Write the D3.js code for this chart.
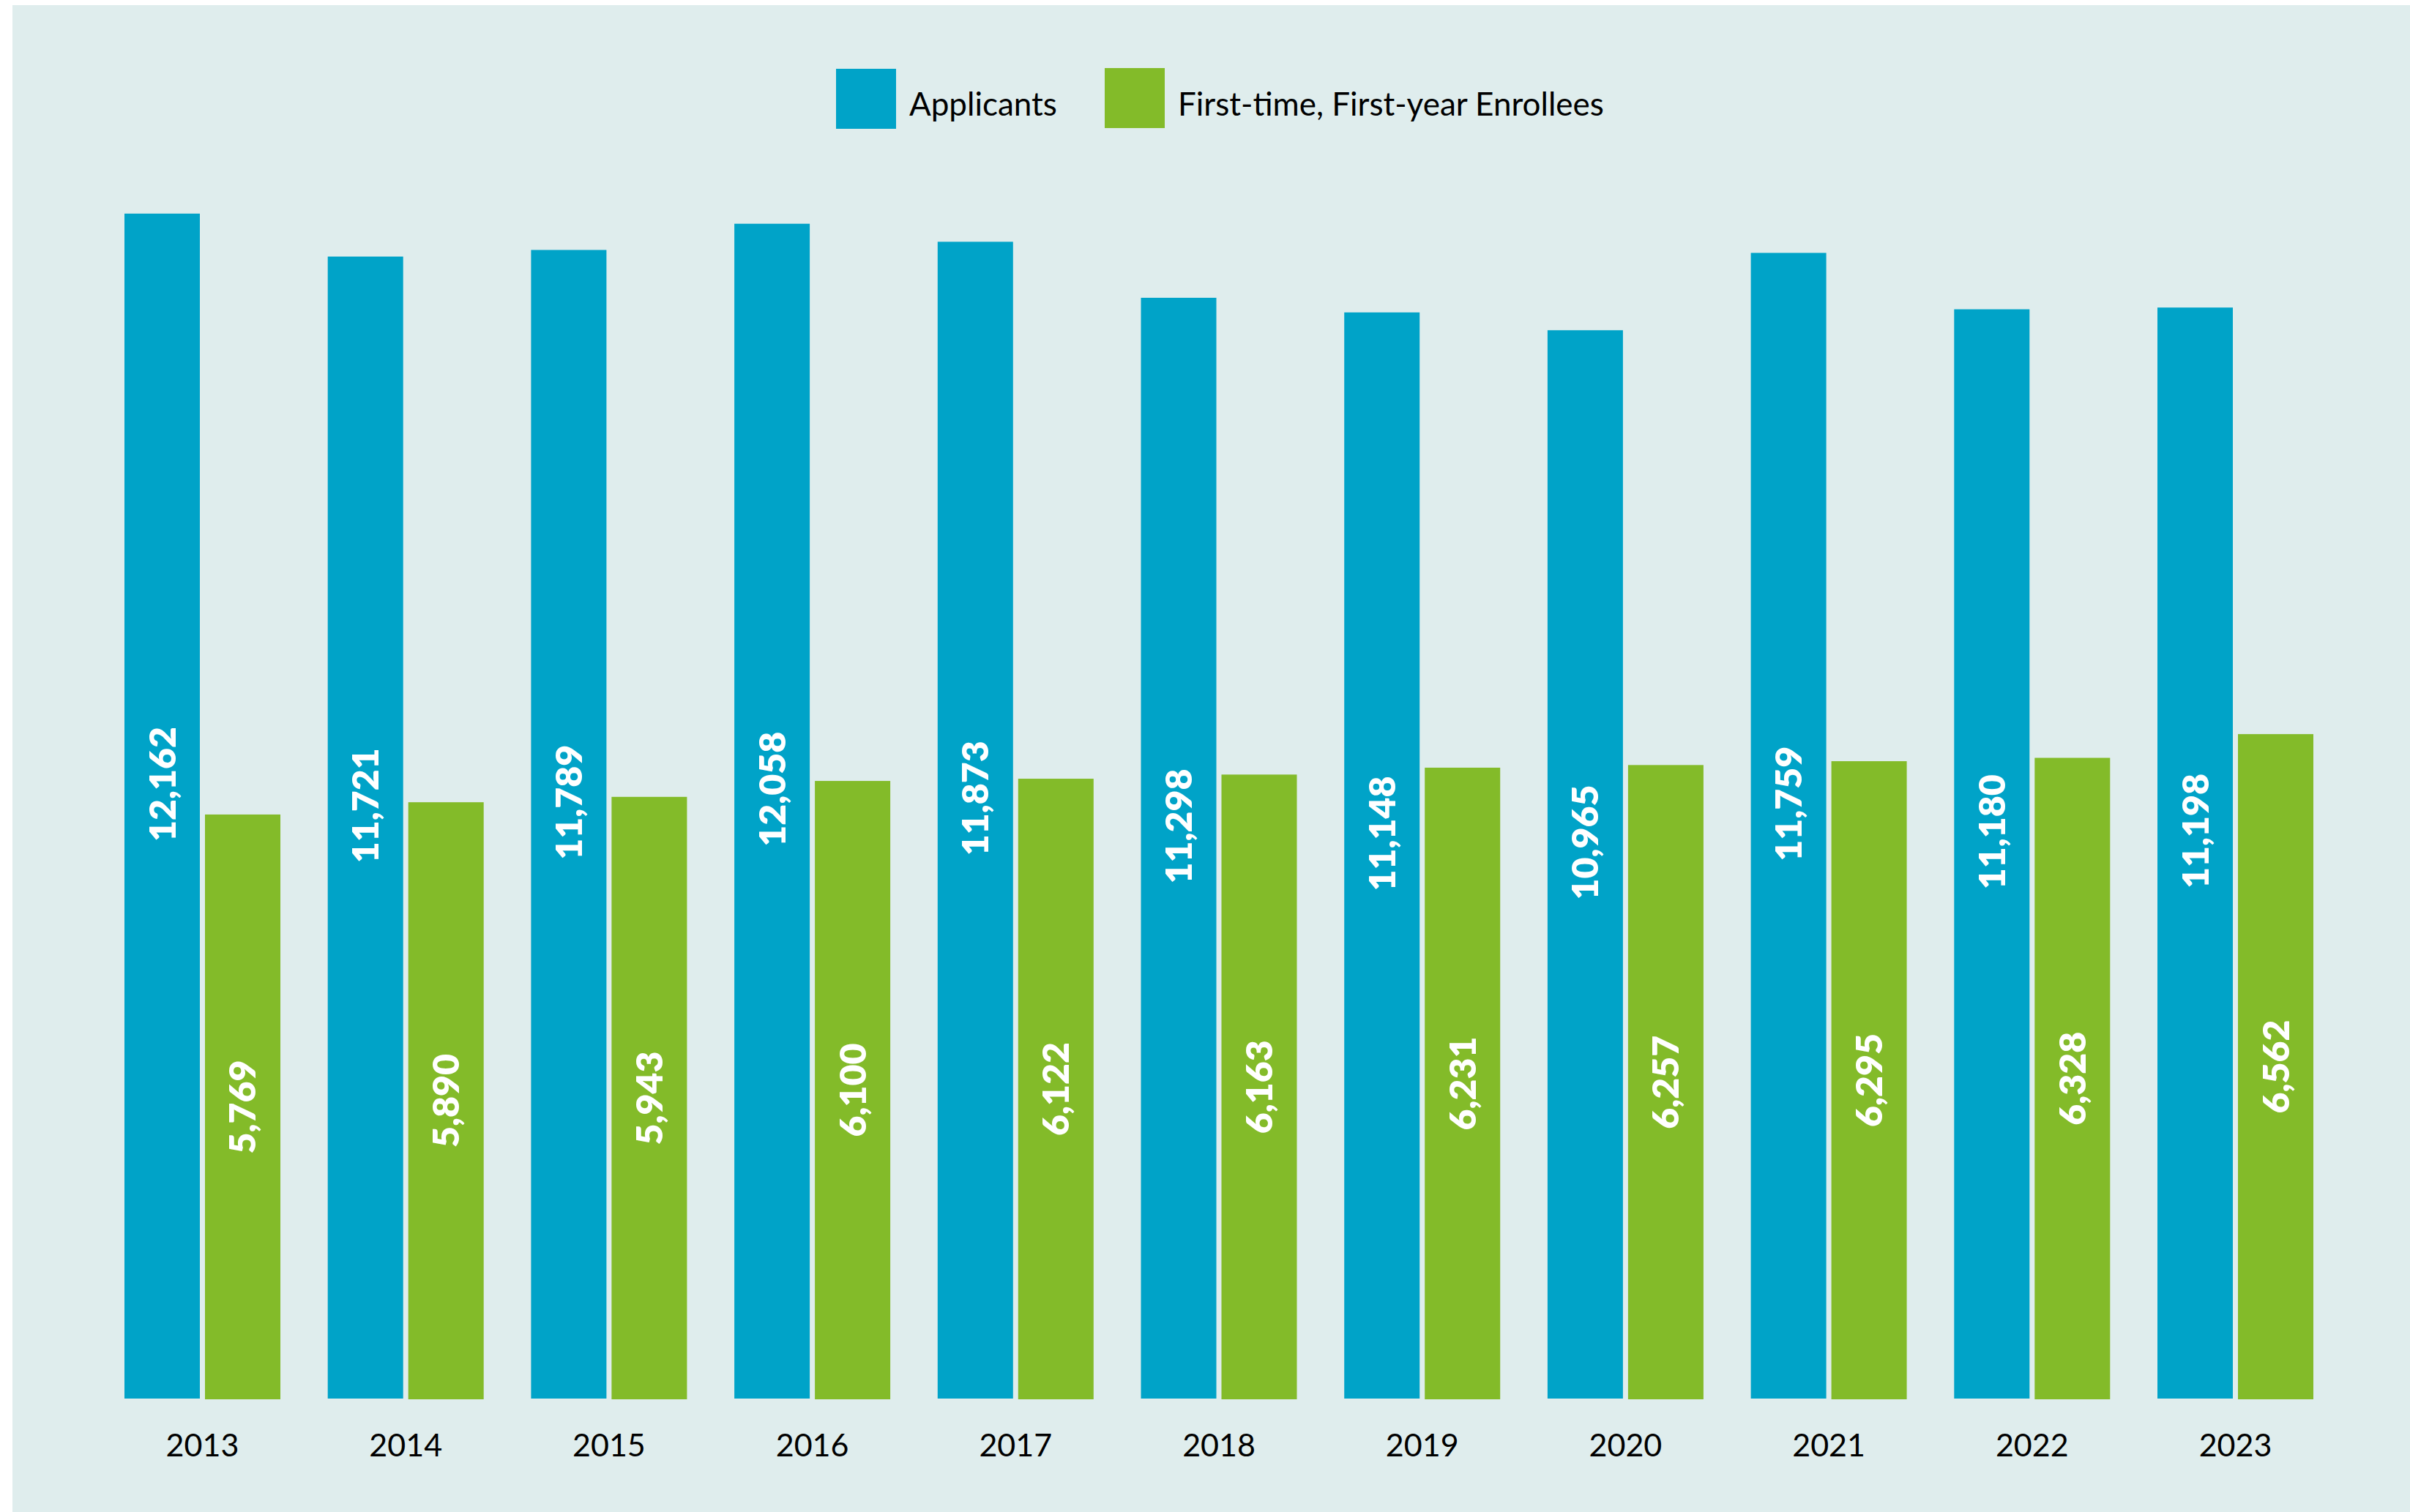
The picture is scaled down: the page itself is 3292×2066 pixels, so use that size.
<!DOCTYPE html>
<html>
<head>
<meta charset="utf-8">
<script src="https://cdn.jsdelivr.net/npm/d3@7"></script>
<style>
  html, body { margin: 0; padding: 0; background: #ffffff; }
  svg { display: block; }
</style>
</head>
<body>
<svg id="chart" width="3292" height="2066"></svg>
<script>
// Admissions figures by year
const years = ["2013", "2014", "2015", "2016", "2017", "2018", "2019", "2020", "2021", "2022", "2023"];
const applicants = [12162, 11721, 11789, 12058, 11873, 11298, 11148, 10965, 11759, 11180, 11198];
const enrollees = [5769, 5890, 5943, 6100, 6122, 6163, 6231, 6257, 6295, 6328, 6562];
const seriesNames = ["Applicants", "First-time, First-year Enrollees"];
const seriesColors = ["#00a3c8", "#83bb29"];

const W = 3292, H = 2066;
const svg = d3.select("#chart");
const font = "Lato, 'Noto Sans', sans-serif";

// panel background
svg.append("rect")
  .attr("x", 17).attr("y", 7)
  .attr("width", W - 17).attr("height", H - 7)
  .attr("fill", "#dfeded");

// each series sits on its own vertical scale
const yApp = d3.scaleLinear().domain([0, 12000]).range([1911, 1911 - 12000 * 0.13313]);
const yEnr = d3.scaleLinear().domain([0, 12000]).range([1912, 1912 - 12000 * 0.13851]);

const x = d3.scaleBand().domain(years).range([170, 3160]).paddingInner(0.233).paddingOuter(0);
const xSub = d3.scaleBand().domain([0, 1]).range([0, x.bandwidth()]).paddingInner(0.0636).paddingOuter(0);

const rows = years.map((y, i) => ({ year: y, vals: [applicants[i], enrollees[i]] }));
const scales = [yApp, yEnr];

const groups = svg.append("g").selectAll("g")
  .data(rows).join("g")
  .attr("transform", d => `translate(${x(d.year)},0)`);

const cells = groups.selectAll("g")
  .data(d => d.vals.map((v, k) => ({ v, k })))
  .join("g");

cells.append("rect")
  .attr("x", d => xSub(d.k))
  .attr("width", xSub.bandwidth())
  .attr("y", d => scales[d.k](d.v))
  .attr("height", d => scales[d.k](0) - scales[d.k](d.v))
  .attr("fill", d => seriesColors[d.k]);

// rotated value labels inside the bars
cells.append("text")
  .attr("transform", d => {
    const cx = xSub(d.k) + xSub.bandwidth() / 2;
    const s = scales[d.k];
    const cy = (s(d.v) + s(0)) / 2 - (d.k === 0 ? 30 : 0);
    return `translate(${cx},${cy}) rotate(-90)`;
  })
  .attr("text-anchor", "middle")
  .attr("dy", "0.36em")
  .attr("fill", "#ffffff")
  .attr("font-family", font)
  .attr("font-weight", 800)
  .attr("font-size", 50)
  .text(d => d3.format(",")(d.v));

// year axis
const xAxis = svg.append("g")
  .attr("transform", "translate(0,1912)")
  .call(d3.axisBottom(x).tickSize(0).tickPadding(78));
xAxis.select(".domain").remove();
xAxis.selectAll("text")
  .attr("font-family", font)
  .attr("font-size", 43)
  .attr("fill", "#000000")
  .attr("dy", 0);

// legend
const legendItems = [
  { name: seriesNames[0], color: seriesColors[0], x: 1142, y: 94 },
  { name: seriesNames[1], color: seriesColors[1], x: 1509, y: 93 }
];
const lg = svg.append("g").selectAll("g").data(legendItems).join("g");
lg.append("rect")
  .attr("x", d => d.x).attr("y", d => d.y)
  .attr("width", 82).attr("height", 82)
  .attr("fill", d => d.color);
lg.append("text")
  .attr("x", d => d.x + 100)
  .attr("y", 158)
  .attr("font-family", font)
  .attr("font-size", 44)
  .attr("fill", "#000000")
  .text(d => d.name);
</script>
</body>
</html>
